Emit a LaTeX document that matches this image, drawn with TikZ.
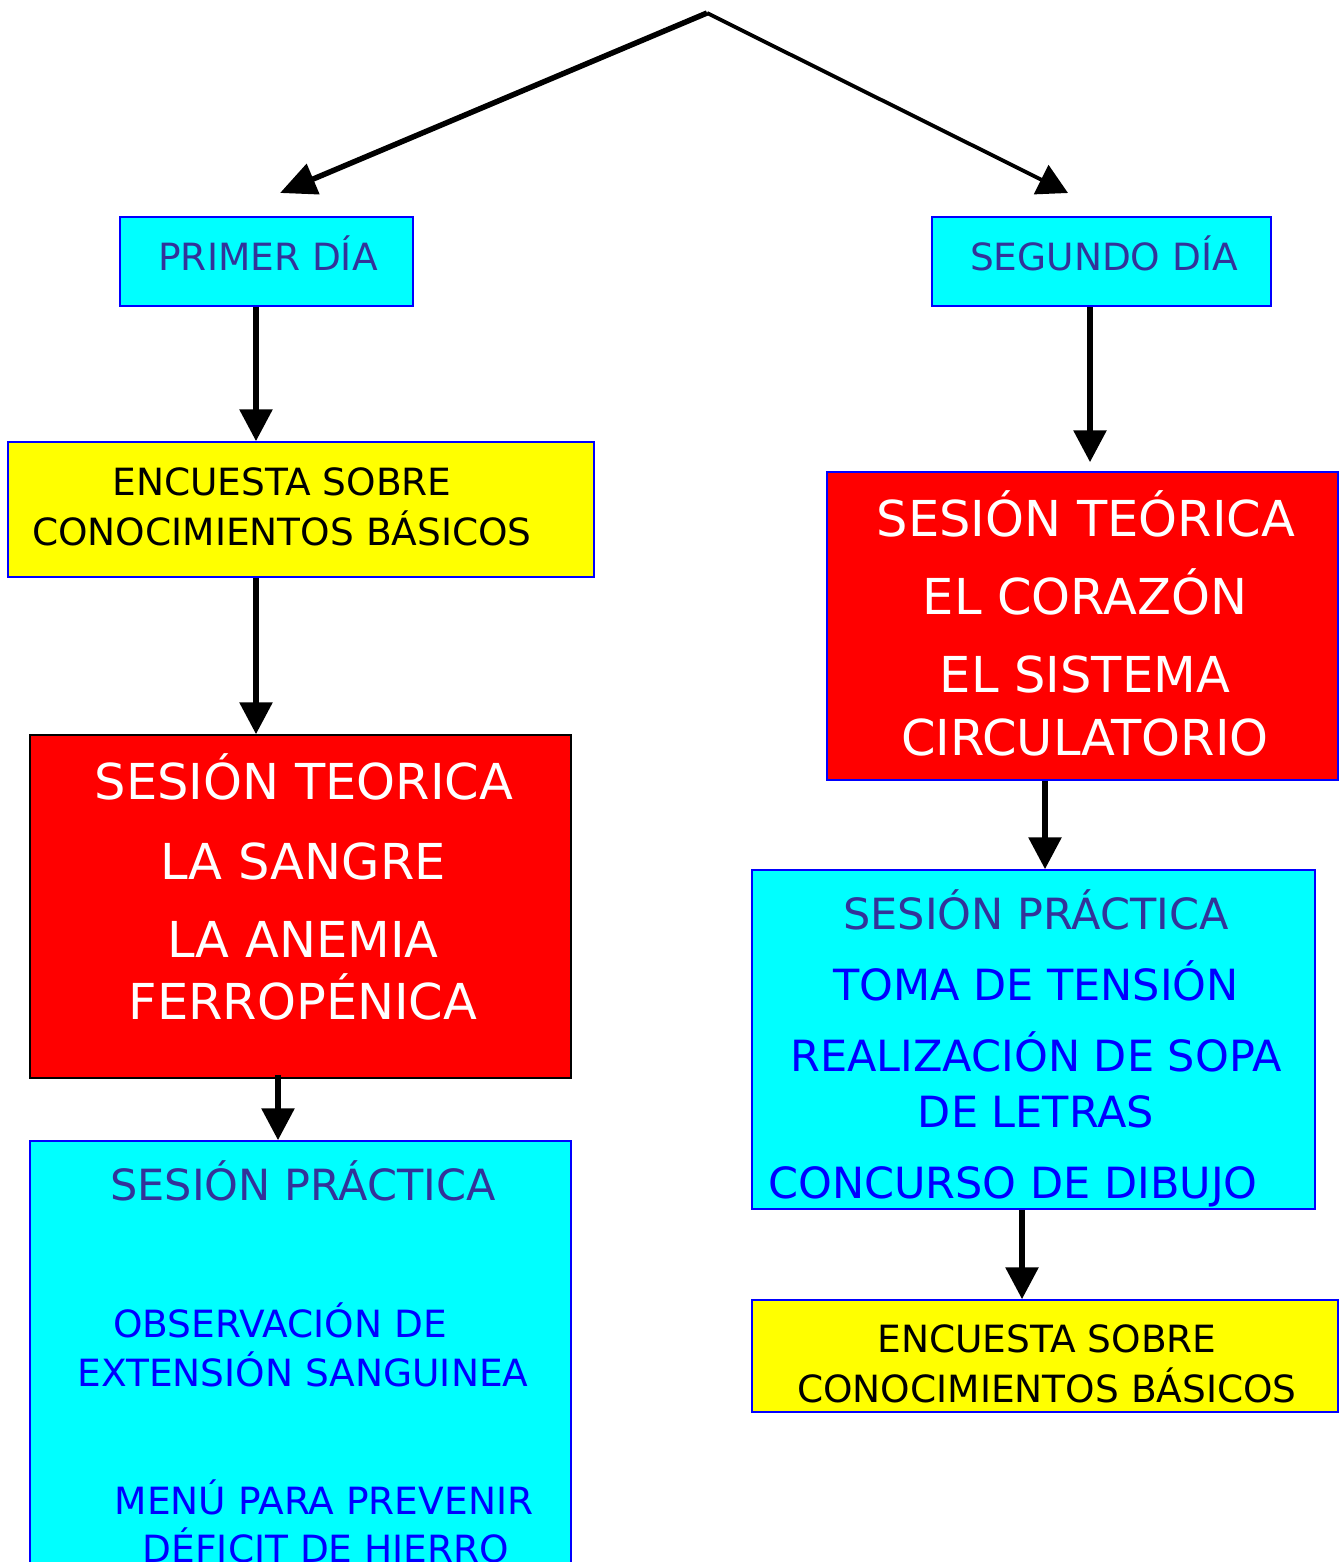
\documentclass[tikz,border=0pt]{standalone}
\usepackage{fontspec}
\setmainfont{DejaVu Sans}
\usepackage{xcolor}
\usetikzlibrary{arrows.meta}
\definecolor{slate}{RGB}{51,51,153}
\definecolor{boxcyan}{RGB}{0,255,255}
\definecolor{boxyellow}{RGB}{255,255,0}
\definecolor{boxred}{RGB}{255,0,0}
\definecolor{boxblue}{RGB}{0,0,255}
\tikzset{
    box/.style = {draw=boxblue, line width=1.5pt, inner sep=0pt},
    cyan_box/.style = {box, fill=boxcyan},
    yellow_box/.style = {box, fill=boxyellow},
    red_box/.style = {box, fill=boxred},
    txt/.style = {anchor=base, inner sep=0pt},
    small_txt/.style = {txt, font=\fontsize{37.5}{45}\selectfont},
    mid_txt/.style = {txt, font=\fontsize{43}{52}\selectfont},
    big_txt/.style = {txt, white, font=\fontsize{49.5}{59}\selectfont},
    flow/.style = {->, line width=6pt}
}

\begin{document}
\begin{tikzpicture}
            [x=1pt, y=-1pt,
            >={Triangle[length=32pt, width=32pt]}]

            \clip (0,0) rectangle (1343,1562);

            % boxes
            \node [cyan_box, minimum width=293pt, minimum height=89pt] (primer) at (266.5,261.5) {};
            \node [cyan_box, minimum width=339pt, minimum height=89pt] (segundo) at (1101.5,261.5) {};
            \node [yellow_box, minimum width=586pt, minimum height=135pt] (enc_left) at (301,509.5) {};
            \node [red_box, draw=black, minimum width=541pt, minimum height=343pt] (teo_left) at (300.5,906.5) {};
            \node [cyan_box, minimum width=541pt, minimum height=459pt] (prac_left) at (300.5,1370.5) {};
            \node [red_box, minimum width=511pt, minimum height=308pt] (teo_right) at (1082.5,626) {};
            \node [cyan_box, minimum width=563pt, minimum height=339pt] (prac_right) at (1033.5,1039.5) {};
            \node [yellow_box, minimum width=586pt, minimum height=112pt] (enc_right) at (1045,1356) {};

            % texts
            \node [small_txt, slate] (primer_t) at (268,270) {PRIMER DÍA};
            \node [small_txt, slate] (segundo_t) at (1104,270) {SEGUNDO DÍA};

            \node [small_txt] (enc_left_a) at (282,495) {ENCUESTA SOBRE};
            \node [small_txt] (enc_left_b) at (282,545) {CONOCIMIENTOS BÁSICOS};

            \node [big_txt] (teo_left_a) at (304,799) {SESIÓN TEORICA};
            \node [big_txt] (teo_left_b) at (303,879) {LA SANGRE};
            \node [big_txt] (teo_left_c) at (303,957) {LA ANEMIA};
            \node [big_txt] (teo_left_d) at (303,1019) {FERROPÉNICA};

            \node [mid_txt, slate] (prac_left_a) at (303,1200) {SESIÓN PRÁCTICA};
            \node [small_txt, boxblue] (prac_left_b) at (280,1337) {OBSERVACIÓN DE};
            \node [small_txt, boxblue] (prac_left_c) at (303,1386) {EXTENSIÓN SANGUINEA};
            \node [small_txt, boxblue] (prac_left_d) at (324,1514) {MENÚ PARA PREVENIR};
            \node [small_txt, boxblue] (prac_left_e) at (326,1562) {DÉFICIT DE HIERRO};

            \node [big_txt] (teo_right_a) at (1086,536) {SESIÓN TEÓRICA};
            \node [big_txt] (teo_right_b) at (1085,614) {EL CORAZÓN};
            \node [big_txt] (teo_right_c) at (1085,692) {EL SISTEMA};
            \node [big_txt] (teo_right_d) at (1085,755) {CIRCULATORIO};

            \node [mid_txt, slate] (prac_right_a) at (1036,929) {SESIÓN PRÁCTICA};
            \node [mid_txt, boxblue] (prac_right_b) at (1036,1000) {TOMA DE TENSIÓN};
            \node [mid_txt, boxblue] (prac_right_c) at (1036,1071) {REALIZACIÓN DE SOPA};
            \node [mid_txt, boxblue] (prac_right_d) at (1036,1127) {DE LETRAS};
            \node [mid_txt, boxblue] (prac_right_e) at (1013,1198) {CONCURSO DE DIBUJO};

            \node [small_txt] (enc_right_a) at (1047,1352) {ENCUESTA SOBRE};
            \node [small_txt] (enc_right_b) at (1047,1402) {CONOCIMIENTOS BÁSICOS};

            % connectors
            \coordinate (apex) at (707,13);
            \coordinate (ltip) at (280,193);
            \coordinate (rtip) at (1068,193);
            \coordinate (lcol) at (256,0);
            \coordinate (lcol2) at (278,0);
            \coordinate (rcol) at (1090,0);
            \coordinate (rcol2) at (1045,0);
            \coordinate (rcol3) at (1022,0);

            \draw [->, line width=5.5pt, >={Triangle[length=36pt, width=32pt]}] (apex) -- (ltip);
            \draw [->, line width=3.8pt, >={Triangle[length=30pt, width=32pt]}] (apex) -- (rtip);
            \draw [flow] (primer.south -| lcol) -- (enc_left.north -| lcol);
            \draw [flow] (enc_left.south -| lcol) -- (teo_left.north -| lcol);
            \draw [flow] ([yshift=4pt]teo_left.south -| lcol2) -- (prac_left.north -| lcol2);
            \draw [flow, shorten >=9pt] (segundo.south -| rcol) -- (teo_right.north -| rcol);
            \draw [flow] (teo_right.south -| rcol2) -- (prac_right.north -| rcol2);
            \draw [flow] (prac_right.south -| rcol3) -- (enc_right.north -| rcol3);
\end{tikzpicture}
\end{document}
